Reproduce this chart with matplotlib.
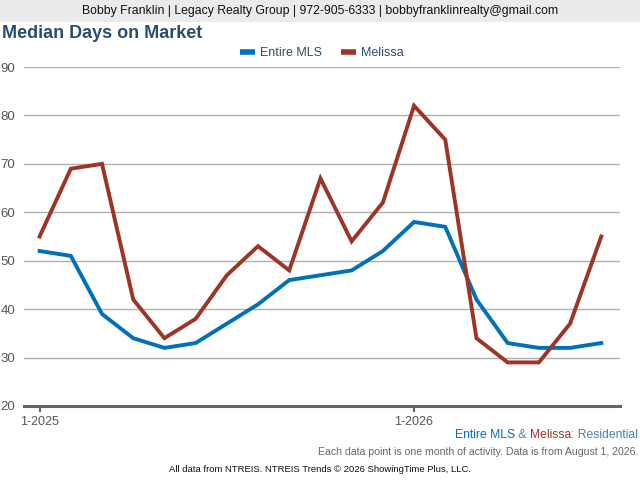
import matplotlib
matplotlib.use("Agg")
import matplotlib.pyplot as plt
from matplotlib.patches import Rectangle

plt.rcParams["font.family"] = ["Liberation Sans", "DejaVu Sans"]

# ---- data -----------------------------------------------------------------
months = list(range(19))  # 1-2025 .. 7-2026
tick_pos = [0, 12]
tick_labels = ["1-2025", "1-2026"]
entire_mls = [52, 51, 39, 34, 32, 33, 37, 41, 46, 47, 48, 52, 58, 57, 42, 33, 32, 32, 33]
melissa = [55, 69, 70, 42, 34, 38, 47, 53, 48, 67, 54, 62, 82, 75, 34, 29, 29, 37, 55]

BLUE = "#0071b9"
RED = "#9d3425"
STEEL = "#4a7fb0"

fig = plt.figure(figsize=(6.4, 4.8), dpi=100)

# header band
fig.patches.append(Rectangle((0, 1 - 22 / 480), 1, 22 / 480, transform=fig.transFigure,
                             facecolor="#ebebeb", edgecolor="none", zorder=0))
fig.text(320 / 640, 1 - 11 / 480, "Bobby Franklin | Legacy Realty Group | 972-905-6333 | bobbyfranklinrealty@gmail.com",
         ha="center", va="center", fontsize=8.8, color="#111111")
fig.text(2 / 640, 1 - 34 / 480, "Median Days on Market", ha="left", va="center",
         fontsize=13, fontweight="bold", color="#2b4c70")

ax = fig.add_axes([24 / 640, 1 - 406 / 480, (620 - 24) / 640, (406 - 67) / 480])
ax.plot(months, entire_mls, color=BLUE, lw=2.8, label="Entire MLS", solid_joinstyle="miter")
ax.plot(months, melissa, color=RED, lw=2.8, label="Melissa", solid_joinstyle="miter")

ax.set_xlim(-0.5, 18.6)
ax.set_ylim(20, 90)
ax.set_yticks(range(20, 91, 10))
ax.yaxis.grid(True, color="#b0b0b0", lw=1)
ax.set_axisbelow(True)
for s in ["top", "right", "left"]:
    ax.spines[s].set_visible(False)
ax.spines["bottom"].set_color("#666666")
ax.spines["bottom"].set_linewidth(2.2)
ax.set_xticks(tick_pos)
ax.set_xticklabels(tick_labels)
ax.tick_params(axis="x", length=4, width=1.5, color="#666666", labelsize=9, labelcolor="#555555", pad=3)
ax.tick_params(axis="y", length=0, labelsize=9.5, labelcolor="#555555", pad=2)
for lbl in ax.get_yticklabels():
    lbl.set_horizontalalignment("left")
    lbl.set_x(-21 / 596)

leg = fig.legend(loc="center", bbox_to_anchor=(322 / 640, 1 - 53 / 480), ncol=2, frameon=False,
                 fontsize=9, handlelength=1.2, handletextpad=0.4, columnspacing=1.5)
for line in leg.get_lines():
    line.set_linewidth(4)
    line.set_solid_capstyle("butt")
for t in leg.get_texts():
    t.set_color("#2b4c70")

# footer with coloured source line
t1 = fig.text(638 / 640, 1 - 435 / 480, ": Residential", ha="right", va="center", fontsize=8.7, color=STEEL)
t2 = fig.text(0, 0, "Melissa", fontsize=8.7, color=RED)
t3 = fig.text(0, 0, " & ", fontsize=8.7, color=STEEL)
t4 = fig.text(0, 0, "Entire MLS", fontsize=8.7, color=BLUE)
fig.canvas.draw()
r = fig.canvas.get_renderer()
x = 638
for t in (t1, t2, t3, t4):
    if t is not t1:
        t.set_position((x / 640, 1 - 435 / 480))
        t.set_ha("right")
        t.set_va("center")
    w = t.get_window_extent(r).width
    x -= w

fig.text(638 / 640, 1 - 452 / 480, "Each data point is one month of activity. Data is from August 1, 2026.",
         ha="right", va="center", fontsize=7.6, color="#666666")
fig.text(320 / 640, 1 - 469 / 480, "All data from NTREIS. NTREIS Trends \u00a9 2026 ShowingTime Plus, LLC.",
         ha="center", va="center", fontsize=6.8, color="#111111")

fig.savefig("out.png", dpi=100)
